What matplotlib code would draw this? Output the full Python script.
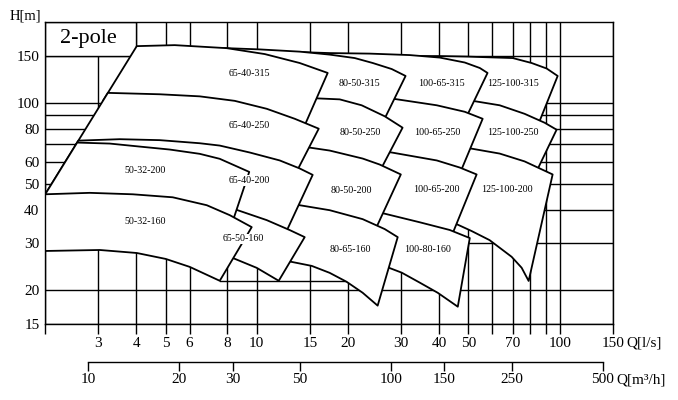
import matplotlib
matplotlib.use("Agg")
import matplotlib.pyplot as plt
from matplotlib.ticker import NullLocator

plt.rcParams['font.family'] = ['Liberation Serif', 'DejaVu Serif']

# axes: Q in l/s (log), H in m (log), second scale in m3/h
q_ticks = [2, 3, 4, 5, 6, 8, 10, 15, 20, 30, 40, 50, 60, 70, 80, 90, 100, 150]
q_labels = ['', '3', '4', '5', '6', '8', '10', '15', '20', '30', '40', '50',
            '', '70', '', '', '100', '150']
h_ticks = [15, 20, 30, 40, 50, 60, 70, 80, 90, 100, 150]
h_labels = ['15', '20', '30', '40', '50', '60', '', '80', '', '100', '150']
m3h_ticks = [10, 20, 30, 50, 100, 150, 250, 500]

# stray grid segment at ~21.7 m between 7.5 and 22 l/s
extra_q = [7.55, 21.9]
extra_h = 21.7

# "2-pole" box
box_q = [2, 4]
box_h = [150, 200]

# pump areas: max impeller curve (left->right), foot of right edge,
# min impeller curve (right->left). drawing order: later ones lie on top.
p125_100_315_q = [29.6, 40.2, 49.7, 70.0, 80.8, 90.6, 98.5, 83.9, 63.4, 46.8, 34.5]
p125_100_315_h = [149.3, 149.3, 148.6, 146.8, 140.7, 134.2, 125.9, 80.1, 91.8, 98.3, 101.7]

p125_100_250_q = [40.2, 51.6, 63.4, 76.6, 89.2, 97.7, 82.7, 63.4, 50.5, 40.2]
p125_100_250_h = [105.3, 101.7, 97.9, 91.0, 84.3, 79.4, 53.7, 59.9, 63.6, 66.4]

p125_100_200_q = [40.2, 51.2, 63.4, 76.6, 94.8, 79.0, 74.9, 69.4, 58.7, 51.2, 45.0, 37.2]
p125_100_200_h = [69.9, 67.5, 64.7, 60.5, 54.1, 21.7, 24.3, 26.7, 30.8, 33.3, 35.6, 37.8]

p100_65_315_q = [13.9, 17.4, 23.6, 32.0, 40.2, 48.6, 54.5, 57.8, 48.9, 40.2, 29.6, 13.9]
p100_65_315_h = [154.5, 153.2, 152.5, 150.6, 147.4, 141.3, 134.8, 129.2, 87.2, 93.4, 98.3, 103.5]

p100_65_250_q = [18.8, 28.3, 39.3, 48.6, 55.7, 46.4, 37.2, 29.6, 18.8]
p100_65_250_h = [108.9, 103.5, 97.9, 92.6, 87.2, 53.2, 58.4, 62.0, 66.4]

p100_65_200_q = [18.8, 27.9, 39.3, 46.8, 53.2, 43.7, 34.5, 27.5, 18.8]
p100_65_200_h = [68.7, 65.3, 61.0, 57.4, 54.1, 31.35, 34.7, 36.6, 39.1]

p100_80_160_q = [18.8, 26.05, 34.5, 43.35, 50.5, 46.1, 39.6, 34.5, 30.1, 27.3, 21.9]
p100_80_160_h = [41.55, 38.8, 35.9, 33.6, 31.35, 17.4, 19.6, 21.4, 23.3, 24.3, 25.6]

p80_50_315_q = [6.48, 7.96, 10.23, 13.86, 17.41, 21.06, 24.15, 27.9, 31.0, 25.85, 21.87, 16.14, 6.48]
p80_50_315_h = [159.1, 159.8, 158.1, 155.1, 151.2, 146.8, 140.7, 133.6, 125.9, 82.9, 89.5, 95.8, 98.3]

p80_50_250_q = [12.85, 15.78, 18.79, 22.2, 26.45, 30.3, 25.46, 20.27, 16.14, 12.85]
p80_50_250_h = [105.3, 103.9, 103.0, 97.9, 89.1, 80.8, 55.5, 61.0, 64.2, 66.4]

p80_50_200_q = [11.91, 14.96, 17.41, 22.37, 25.46, 29.9, 24.52, 18.79, 13.86, 11.91]
p80_50_200_h = [70.5, 68.1, 66.4, 62.0, 58.9, 54.1, 33.3, 36.56, 38.5, 39.8]

p80_65_160_q = [12.37, 13.86, 17.41, 22.37, 26.45, 29.2, 25.07, 22.37, 19.81, 17.41, 15.19, 13.05, 11.47]
p80_65_160_h = [42.6, 41.55, 39.81, 36.87, 33.86, 31.6, 17.56, 19.61, 21.54, 23.26, 24.69, 25.55, 26.43]

p65_40_315_q = [4.017, 5.36, 7.96, 10.63, 13.86, 17.15, 14.29, 11.04, 7.55, 4.435, 3.107]
p65_40_315_h = [162.6, 164.0, 159.8, 151.9, 140.7, 129.2, 80.8, 89.5, 98.3, 101.7, 101.7]

p65_40_250_q = [3.225, 4.785, 6.484, 8.46, 10.79, 13.35, 16.02, 13.45, 10.23, 6.484, 3.53, 2.518]
p65_40_250_h = [108.9, 107.6, 105.7, 101.7, 95.0, 87.2, 80.1, 54.6, 61.0, 66.4, 69.3, 69.3]

p65_40_200_q = [2.577, 3.53, 4.785, 6.484, 7.549, 9.482, 11.91, 13.86, 15.3, 12.37,
                9.48, 6.484, 3.53, 2.012, 2.012]
p65_40_200_h = [72.3, 73.2, 72.6, 70.7, 69.3, 65.3, 61.0, 56.95, 53.9, 32.17,
                35.93, 38.5, 41.55, 43.35, 46.0]

p65_50_160_q = [6.484, 8.46, 10.79, 12.85, 14.40, 11.82, 10.0, 8.33, 7.267]
p65_50_160_h = [43.35, 40.15, 36.56, 33.57, 31.6, 21.73, 24.28, 26.43, 27.82]

p50_32_200_q = [2.554, 3.272, 4.11, 5.162, 6.484, 7.549, 9.446, 8.27, 6.484, 3.53, 2.012, 2.012]
p50_32_200_h = [71.1, 70.5, 68.7, 66.98, 64.56, 61.86, 55.28, 35.33, 39.81, 42.6, 44.1, 46.0]

p50_32_160_q = [2.0, 2.811, 3.897, 5.28, 6.84, 8.145, 9.626, 7.549, 6.01, 5.008, 4.017, 3.033, 2.0]
p50_32_160_h = [45.63, 46.2, 45.63, 44.47, 41.55, 38.15, 34.43, 21.73, 24.48, 26.21, 27.58, 28.3, 28.06]

pumps = [
    ("125-100-315", p125_100_315_q, p125_100_315_h),
    ("125-100-250", p125_100_250_q, p125_100_250_h),
    ("125-100-200", p125_100_200_q, p125_100_200_h),
    ("100-65-315", p100_65_315_q, p100_65_315_h),
    ("100-65-250", p100_65_250_q, p100_65_250_h),
    ("100-65-200", p100_65_200_q, p100_65_200_h),
    ("100-80-160", p100_80_160_q, p100_80_160_h),
    ("80-50-315", p80_50_315_q, p80_50_315_h),
    ("80-50-250", p80_50_250_q, p80_50_250_h),
    ("80-50-200", p80_50_200_q, p80_50_200_h),
    ("80-65-160", p80_65_160_q, p80_65_160_h),
    ("65-40-315", p65_40_315_q, p65_40_315_h),
    ("65-40-250", p65_40_250_q, p65_40_250_h),
    ("65-40-200", p65_40_200_q, p65_40_200_h),
    ("65-50-160", p65_50_160_q, p65_50_160_h),
    ("50-32-200", p50_32_200_q, p50_32_200_h),
    ("50-32-160", p50_32_160_q, p50_32_160_h),
]

# label anchor (Q, H) for each pump, same order
label_q = [70.0, 70.0, 66.8, 40.8, 39.3, 39.3, 36.7, 21.9, 21.9, 20.6, 20.3,
           9.48, 9.48, 9.48, 9.06, 4.27, 4.27]
label_h = [117.6, 77.4, 47.6, 117.6, 77.4, 47.6, 28.3, 117.6, 77.4, 47.2, 28.3,
           128.1, 82.2, 51.4, 31.1, 56.0, 36.25]
boxed = ["65-40-200", "65-50-160"]

fig = plt.figure(figsize=(6.78, 4.0), dpi=100)
ax = fig.add_axes([45 / 678, 76 / 400, 568 / 678, 302 / 400])
ax.set_xscale("log")
ax.set_yscale("log")
ax.set_xlim(2, 150)
ax.set_ylim(15, 200)
ax.set_xticks(q_ticks, q_labels)
ax.set_yticks(h_ticks, h_labels)
ax.xaxis.set_minor_locator(NullLocator())
ax.yaxis.set_minor_locator(NullLocator())
ax.set_axisbelow(True)
ax.grid(True, color="black", linewidth=1.0)
ax.tick_params(axis="x", direction="out", length=7.2, width=1.0, pad=2,
               labelsize=11, colors="black")
ax.tick_params(axis="y", length=0, pad=4, labelsize=11)
for s in ax.spines.values():
    s.set_linewidth(1.0)

ax.plot(extra_q, [extra_h, extra_h], color="black", lw=1.0, zorder=0.5)

ax.fill([box_q[0], box_q[1], box_q[1], box_q[0]],
        [box_h[0], box_h[0], box_h[1], box_h[1]],
        facecolor="white", edgecolor="black", lw=1.0, zorder=0.8)
ax.text(0.0757, 0.947, "2-pole", transform=ax.transAxes, ha="center",
        va="center", fontsize=16)

for name, q, h in pumps:
    ax.fill(q, h, facecolor="white", edgecolor="black", lw=1.3,
            joinstyle="round", zorder=1)

for (name, q, h), lq, lh in zip(pumps, label_q, label_h):
    kw = {}
    if name in boxed:
        kw["bbox"] = dict(facecolor="white", edgecolor="none", pad=0.6)
    ax.text(lq, lh, name, ha="center", va="center", fontsize=7.2, zorder=3, **kw)

# second Q scale in m3/h
sec = ax.secondary_xaxis(-0.126, functions=(lambda q: q * 3.6, lambda m: m / 3.6))
sec.set_ticks(m3h_ticks, labels=[str(v) for v in m3h_ticks])
sec.xaxis.set_minor_locator(NullLocator())
sec.spines["bottom"].set_bounds(10, 500)
sec.spines["bottom"].set_linewidth(1.0)
sec.tick_params(direction="out", length=6.7, width=1.0, pad=1.5, labelsize=11)

ax.text(1.0 + 13 / 568, -19 / 302, "Q[l/s]", transform=ax.transAxes,
        ha="left", va="center", fontsize=11)
ax.text((616 - 45) / 568, -56 / 302, "Q[m³/h]", transform=ax.transAxes,
        ha="left", va="center", fontsize=11)
fig.text(10 / 678, 1 - 16 / 400, "H[m]", ha="left", va="center", fontsize=10.5)

fig.savefig("out.png", dpi=100)
